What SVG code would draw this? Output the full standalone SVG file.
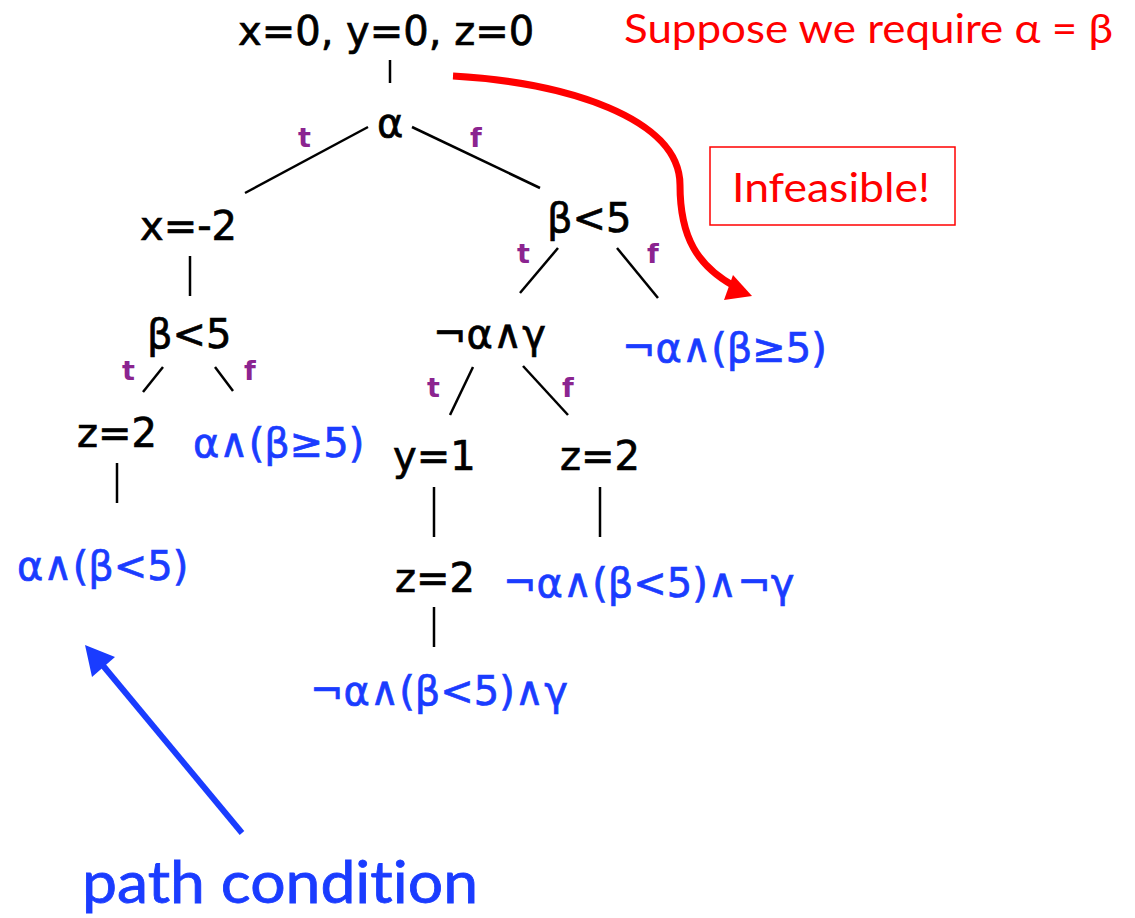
<svg xmlns="http://www.w3.org/2000/svg" width="1135" height="918" viewBox="0 0 1135 918">
<style>
.n{font-family:"DejaVu Sans",sans-serif;font-size:40px;fill:#000;stroke:#000;stroke-width:0.7}
.pc{font-family:"DejaVu Sans",sans-serif;font-size:40px;fill:#1a3cff;stroke:#1a3cff;stroke-width:0.7}
.lb{font-family:"DejaVu Sans",sans-serif;font-size:27px;font-weight:bold;fill:#8b2490}
.e{stroke:#000;stroke-width:2.5;fill:none}
.red{font-family:Lato,"Open Sans",sans-serif;font-size:41px;fill:#ff0000;font-variant-ligatures:none}
</style>
<rect width="1135" height="918" fill="#fff"/>
<g id="connectors">
<line class="e" x1="390" y1="60" x2="390" y2="83"/>
<line class="e" x1="368" y1="127" x2="245" y2="193"/>
<line class="e" x1="412" y1="127" x2="540" y2="188"/>
<line class="e" x1="190" y1="256" x2="190" y2="296"/>
<line class="e" x1="163" y1="367" x2="143" y2="392"/>
<line class="e" x1="215" y1="367" x2="233" y2="391"/>
<line class="e" x1="117" y1="463" x2="117" y2="503"/>
<line class="e" x1="558" y1="248" x2="520" y2="293"/>
<line class="e" x1="617" y1="248" x2="658" y2="298"/>
<line class="e" x1="473" y1="367" x2="450" y2="415"/>
<line class="e" x1="523" y1="366" x2="568" y2="415"/>
<line class="e" x1="434" y1="487" x2="434" y2="537"/>
<line class="e" x1="600" y1="487" x2="600" y2="537"/>
<line class="e" x1="434" y1="607" x2="434" y2="647"/>
<path d="M453,76 C565,82 680,118 680,185 C680,238 698,266 734,286" stroke="#ff0000" stroke-width="7" fill="none"/>
<polygon points="733,275 724,300 752,296" fill="#ff0000"/>
<line x1="242" y1="833" x2="100" y2="662" stroke="#1a3cff" stroke-width="6"/>
<polygon points="85,645 92,677 115,657" fill="#1a3cff"/>
</g>
<g id="labels">
<text class="lb" x="298" y="147">t</text>
<text class="lb" x="470" y="147">f</text>
<text class="lb" x="122" y="380">t</text>
<text class="lb" x="244" y="380">f</text>
<text class="lb" x="517" y="263">t</text>
<text class="lb" x="647" y="263">f</text>
<text class="lb" x="427" y="397">t</text>
<text class="lb" x="562" y="397">f</text>
</g>
<g id="n-root"><text class="n" x="238" y="45">x=0, y=0, z=0</text></g>
<g id="n-alpha"><text class="n" x="377" y="137">α</text></g>
<g id="n-x2"><text class="n" x="140" y="240">x=-2</text></g>
<g id="n-beta-left"><text class="n" x="147" y="348">β&lt;5</text></g>
<g id="n-z2-left"><text class="n" x="77" y="447">z=2</text></g>
<g id="n-beta-right"><text class="n" x="547" y="232">β&lt;5</text></g>
<g id="n-nag"><text class="n" x="433" y="348">¬α∧γ</text></g>
<g id="n-y1"><text class="n" x="393" y="470">y=1</text></g>
<g id="n-z2-right"><text class="n" x="560" y="470">z=2</text></g>
<g id="n-z2-lower"><text class="n" x="395" y="592">z=2</text></g>
<g id="pc1"><text class="pc" x="193" y="457">α∧(β≥5)</text></g>
<g id="pc2"><text class="pc" x="17" y="580">α∧(β&lt;5)</text></g>
<g id="pc3"><text class="pc" x="622" y="362">¬α∧(β≥5)</text></g>
<g id="pc4"><text class="pc" x="503" y="597">¬α∧(β&lt;5)∧¬γ</text></g>
<g id="pc5"><text class="pc" x="310" y="705">¬α∧(β&lt;5)∧γ</text></g>
<g id="note-suppose"><text class="red" x="624" y="43" textLength="489" lengthAdjust="spacingAndGlyphs">Suppose we require α = β</text></g>
<g id="note-infeasible">
<rect x="710" y="147" width="245" height="78" fill="none" stroke="#ff0000" stroke-width="1.5"/>
<text class="red" x="732" y="202" textLength="198" lengthAdjust="spacingAndGlyphs">Infeasible!</text>
</g>
<g id="note-path"><text x="82" y="903" font-family="Lato,'Open Sans',sans-serif" font-size="58" fill="#1a3cff" stroke="#1a3cff" stroke-width="0.8" style="font-variant-ligatures:none" textLength="396" lengthAdjust="spacingAndGlyphs">path condition</text></g>
</svg>
